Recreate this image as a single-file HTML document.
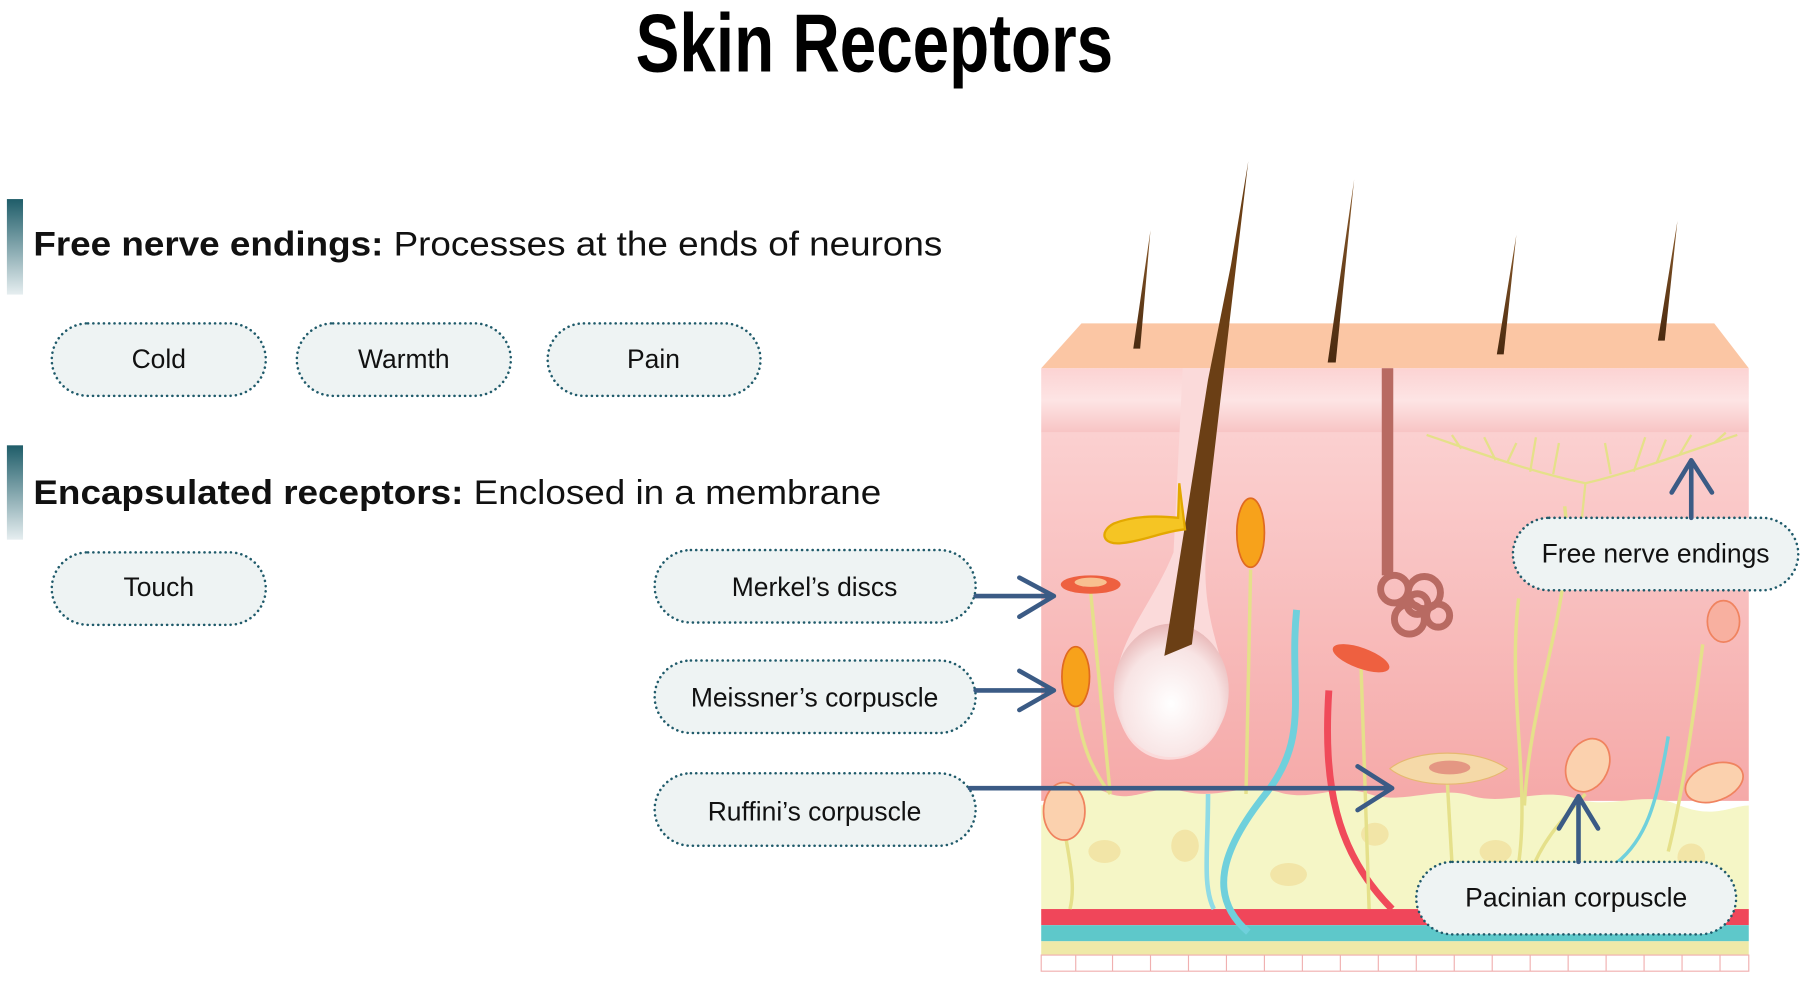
<!DOCTYPE html>
<html><head><meta charset="utf-8"><style>
html,body{margin:0;padding:0;background:#fff;}
svg{display:block}
</style></head><body>
<svg width="1804" height="985" viewBox="0 0 1568 856" preserveAspectRatio="none" xmlns="http://www.w3.org/2000/svg">
<defs>
<linearGradient id="bar" x1="0" y1="0" x2="0" y2="1"><stop offset="0" stop-color="#1f5d69"/><stop offset="1" stop-color="#e6eef0"/></linearGradient>
<linearGradient id="derm" x1="0" y1="0" x2="0" y2="1"><stop offset="0" stop-color="#fbd0d0"/><stop offset="1" stop-color="#f5a9a8"/></linearGradient>
<linearGradient id="epi" x1="0" y1="0" x2="0" y2="1"><stop offset="0" stop-color="#fcd3d3"/><stop offset="0.5" stop-color="#fde4e4"/><stop offset="1" stop-color="#f8c4c4"/></linearGradient>
<radialGradient id="bulb" cx="0.5" cy="0.6" r="0.6"><stop offset="0" stop-color="#fff"/><stop offset="0.7" stop-color="#f8e4e4"/><stop offset="1" stop-color="#e8b7b7"/></radialGradient>
<linearGradient id="hair" x1="0" y1="0" x2="0" y2="1"><stop offset="0" stop-color="#8a5a2a"/><stop offset="1" stop-color="#4a2a10"/></linearGradient>
</defs>
<text x="760" y="62" text-anchor="middle" font-family="Liberation Sans Narrow, Liberation Sans, sans-serif" font-weight="bold" font-size="72" textLength="415" lengthAdjust="spacingAndGlyphs" fill="#000">Skin Receptors</text>
<rect x="6" y="173" width="14" height="83" fill="url(#bar)"/>
<text x="29" y="222" font-family="Liberation Sans, sans-serif" font-size="30" fill="#111" textLength="790" lengthAdjust="spacingAndGlyphs"><tspan font-weight="bold">Free nerve endings:</tspan> Processes at the ends of neurons</text>
<rect x="6" y="387" width="14" height="82" fill="url(#bar)"/>
<text x="29" y="438" font-family="Liberation Sans, sans-serif" font-size="30" fill="#111" textLength="737" lengthAdjust="spacingAndGlyphs"><tspan font-weight="bold">Encapsulated receptors:</tspan> Enclosed in a membrane</text>

<polygon points="905,320 940,281 1490,281 1520,320" fill="#fbc6a4"/>
<rect x="905" y="320" width="615" height="56" fill="url(#epi)"/>
<rect x="905" y="376" width="615" height="320" fill="url(#derm)"/>
<path d="M905,700 C925,690 940,680 960,688 C985,700 1000,680 1030,688 C1060,695 1080,680 1110,688 C1140,698 1160,680 1190,690 C1220,700 1250,682 1280,692 C1310,700 1340,684 1370,694 C1400,704 1430,686 1460,700 C1490,712 1505,700 1520,700 L1520,795 L905,795 Z" fill="#f5f6c6"/>
<g fill="#f1de9a" opacity="0.7">
<ellipse cx="960" cy="740" rx="14" ry="10"/><ellipse cx="1030" cy="735" rx="12" ry="14"/><ellipse cx="1120" cy="760" rx="16" ry="10"/><ellipse cx="1195" cy="725" rx="12" ry="10"/><ellipse cx="1300" cy="740" rx="14" ry="10"/><ellipse cx="1470" cy="745" rx="12" ry="12"/>
</g>
<rect x="905" y="790" width="615" height="14" fill="#f0465a"/>
<rect x="905" y="804" width="615" height="14" fill="#5ec8ca"/>
<rect x="905" y="818" width="615" height="12" fill="#efe9a8"/>
<rect x="905" y="830" width="615" height="14" fill="#fff" stroke="#f0b0b0" stroke-width="1"/>
<g stroke="#f0b0b0" stroke-width="1">
<line x1="935" y1="830" x2="935" y2="844"/><line x1="967" y1="830" x2="967" y2="844"/><line x1="1000" y1="830" x2="1000" y2="844"/><line x1="1033" y1="830" x2="1033" y2="844"/><line x1="1066" y1="830" x2="1066" y2="844"/><line x1="1099" y1="830" x2="1099" y2="844"/><line x1="1132" y1="830" x2="1132" y2="844"/><line x1="1165" y1="830" x2="1165" y2="844"/><line x1="1198" y1="830" x2="1198" y2="844"/><line x1="1231" y1="830" x2="1231" y2="844"/><line x1="1264" y1="830" x2="1264" y2="844"/><line x1="1297" y1="830" x2="1297" y2="844"/><line x1="1330" y1="830" x2="1330" y2="844"/><line x1="1363" y1="830" x2="1363" y2="844"/><line x1="1396" y1="830" x2="1396" y2="844"/><line x1="1429" y1="830" x2="1429" y2="844"/><line x1="1462" y1="830" x2="1462" y2="844"/><line x1="1495" y1="830" x2="1495" y2="844"/>
</g>

<path d="M1127,530 C1120,600 1140,640 1100,690 C1060,740 1050,780 1085,810" stroke="#6fd0dc" stroke-width="6" fill="none"/>
<path d="M1155,600 C1150,680 1160,740 1210,790" stroke="#f04a5a" stroke-width="6" fill="none"/>
<path d="M1050,690 C1050,740 1045,770 1055,790" stroke="#8fdbe6" stroke-width="4" fill="none"/>
<path d="M1450,640 C1440,700 1430,730 1405,750" stroke="#6fd0dc" stroke-width="3" fill="none"/>

<g fill="url(#hair)">
<polygon points="985,303 991,303 1000,200"/>
<polygon points="1154,315 1161,315 1177,156"/>
<polygon points="1301,308 1307,308 1318,204"/>
<polygon points="1441,296 1447,296 1458,192"/>
</g>
<path d="M1028,320 L1020,480 C1000,530 965,560 970,610 C975,650 1000,662 1020,660 C1050,658 1068,630 1065,600 C1062,560 1045,540 1048,480 L1060,320 Z" fill="#fbdada"/>
<ellipse cx="1018" cy="600" rx="50" ry="58" fill="url(#bulb)"/>
<polygon points="1012,570 1036,560 1085,140 1070,230 1050,330" fill="#6b3f15"/>
<path d="M1025,420 L1024,450 C1005,448 985,448 968,455 C955,462 958,474 975,472 C995,470 1010,462 1030,460 Z" fill="#f5c524" stroke="#e3a800" stroke-width="2"/>
<rect x="1201" y="320" width="10" height="180" fill="#b86a62"/>
<g fill="none" stroke="#b86a62" stroke-width="6">
<circle cx="1212" cy="512" r="12"/><circle cx="1238" cy="515" r="14"/><circle cx="1225" cy="538" r="13"/><circle cx="1250" cy="535" r="10"/><circle cx="1232" cy="525" r="9"/>
</g>
<g stroke="#e5e08a" stroke-width="3" fill="none">
<path d="M948,515 L965,690"/><path d="M935,610 C940,650 950,670 965,690"/>
<path d="M1087,495 L1083,690"/><path d="M1183,580 L1190,790"/>
<path d="M1258,680 L1262,750"/><path d="M1320,520 C1310,600 1330,680 1320,750"/>
<path d="M1360,440 C1370,520 1330,600 1325,700"/><path d="M1480,560 C1470,640 1460,700 1450,740"/>
<path d="M1378,690 C1360,710 1340,730 1330,760"/><path d="M925,720 C930,750 935,770 930,790"/>
</g>
<g stroke="#e5e08a" stroke-width="2" fill="none">
<path d="M1375,450 L1378,420 C1330,410 1290,395 1240,378 M1378,420 C1420,410 1460,395 1510,378 M1300,400 L1290,380 M1330,410 L1335,380 M1420,410 L1430,380 M1460,395 L1470,378 M1270,390 L1262,378 M1490,385 L1500,376 M1350,412 L1355,385 M1400,412 L1395,385 M1310,402 L1318,385 M1440,402 L1448,382"/>
</g>
<g stroke="#e06a20" stroke-width="1.5">
<ellipse cx="935" cy="588" rx="12" ry="26" fill="#f7a21b"/>
<ellipse cx="1087" cy="463" rx="12" ry="30" fill="#f7a21b"/>
</g>
<ellipse cx="948" cy="508" rx="26" ry="8" fill="#ee6040"/><ellipse cx="948" cy="506" rx="14" ry="4" fill="#f8c090"/>
<ellipse cx="1183" cy="572" rx="26" ry="9" transform="rotate(20 1183 572)" fill="#ee6040"/>
<path d="M1208,668 C1230,650 1285,650 1310,668 C1285,686 1230,686 1208,668 Z" fill="#f5d9a8" stroke="#e6b870"/>
<ellipse cx="1260" cy="667" rx="18" ry="6" fill="#d96a6a" opacity="0.6"/>
<g fill="#fbd1ae" stroke="#f0835f" stroke-width="1.5">
<ellipse cx="1380" cy="665" rx="18" ry="24" transform="rotate(25 1380 665)"/>
<ellipse cx="1490" cy="680" rx="26" ry="16" transform="rotate(-20 1490 680)"/>
<ellipse cx="925" cy="705" rx="18" ry="25"/>
<ellipse cx="1498" cy="540" rx="14" ry="18" fill="#f8b0a0"/>
</g>

<g fill="#eef3f3" stroke="#1f5a6a" stroke-width="2.2" stroke-dasharray="0.1 4.5" stroke-linecap="round">
<rect x="45" y="281" width="186" height="63" rx="31.5"/>
<rect x="258" y="281" width="186" height="63" rx="31.5"/>
<rect x="476" y="281" width="185" height="63" rx="31.5"/>
<rect x="45" y="480" width="186" height="63" rx="31.5"/>
<rect x="569" y="478" width="279" height="63" rx="31.5"/>
<rect x="569" y="574" width="279" height="63" rx="31.5"/>
<rect x="569" y="672" width="279" height="63" rx="31.5"/>
<rect x="1315" y="450" width="248" height="63" rx="31.5"/>
<rect x="1231" y="749" width="278" height="63" rx="31.5"/>
</g>
<g font-family="Liberation Sans, sans-serif" font-size="23" fill="#111" text-anchor="middle">
<text x="138" y="320">Cold</text>
<text x="351" y="320">Warmth</text>
<text x="568" y="320">Pain</text>
<text x="138" y="518">Touch</text>
<text x="708" y="518">Merkel’s discs</text>
<text x="708" y="614">Meissner’s corpuscle</text>
<text x="708" y="713">Ruffini’s corpuscle</text>
<text x="1439" y="489">Free nerve endings</text>
<text x="1370" y="788">Pacinian corpuscle</text>
</g>
<g stroke="#3b5b85" stroke-width="4" fill="none" stroke-linecap="round" stroke-linejoin="round">
<path d="M848,518 L916,518 M886,502 L916,518 L886,536"/>
<path d="M848,600 L916,600 M886,583 L916,600 L886,617"/>
<path d="M843,685 L1210,685 M1180,666 L1210,685 L1180,704"/>
<path d="M1470,450 L1470,400 M1453,428 L1470,400 L1488,428"/>
<path d="M1372,749 L1372,692 M1355,720 L1372,692 L1389,720"/>
</g>
</svg>
</body></html>
